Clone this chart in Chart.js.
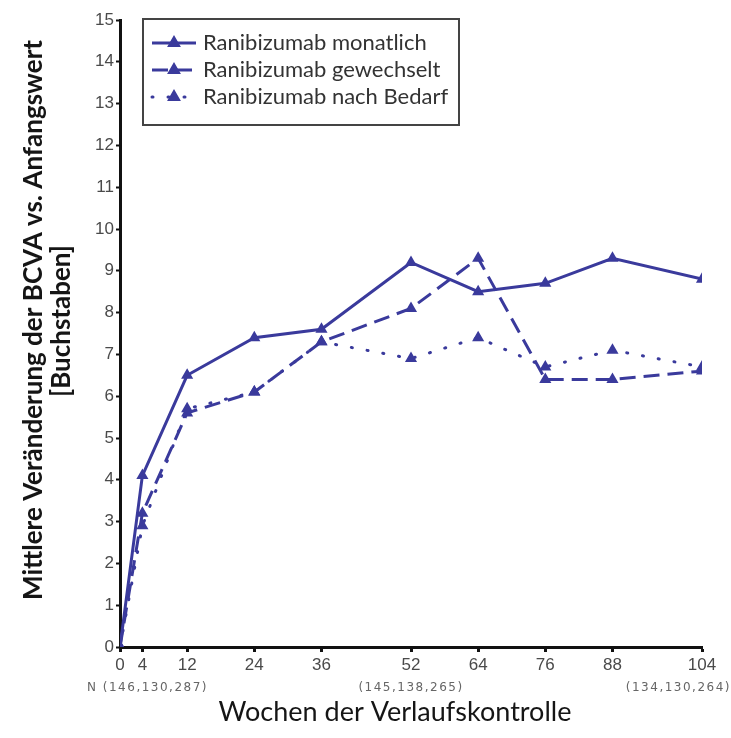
<!DOCTYPE html>
<html>
<head>
<meta charset="utf-8">
<script src="https://cdn.jsdelivr.net/npm/chart.js@4.4.0/dist/chart.umd.min.js"></script>
<style>
  body { margin: 0; background: #fff; }
</style>
</head>
<body>
<canvas id="bcva_chart" width="731" height="738"></canvas>
<script>
// weeks of follow-up and mean BCVA change per arm (letters)
var weeks = [0, 4, 12, 24, 36, 52, 64, 76, 88, 104]
var monatlich = [0, 4.1, 6.5, 7.4, 7.6, 9.2, 8.5, 8.7, 9.3, 8.8]
var gewechselt = [0, 3.2, 5.6, 6.1, 7.3, 8.1, 9.3, 6.4, 6.4, 6.6]
var nachBedarf = [0, 2.9, 5.7, 6.1, 7.3, 6.9, 7.4, 6.7, 7.1, 6.7]
var seriesNames = ['Ranibizumab monatlich', 'Ranibizumab gewechselt', 'Ranibizumab nach Bedarf']

var xTicks = weeks
var yMin = 0
var yMax = 15
var nWeeks = [0, 52, 104]
var nLabels = ['N (146,130,287)', '(145,138,265)', '(134,130,264)']
var xTitle = 'Wochen der Verlaufskontrolle'
var yTitle = ['Mittlere Veränderung der BCVA vs. Anfangswert', '[Buchstaben]']

var lineColor = '#3a3a9c'

function points(vals) {
    return weeks.map((w, i) => ({ x: w, y: vals[i] }))
}

// legend with a frame, drawn inside the plot area
const boxLegend = {
    id: 'boxLegend',
    afterDraw(chart) {
        const ctx = chart.ctx
        const area = chart.chartArea
        const x0 = area.left + 23, y0 = area.top - 1
        ctx.save()
        ctx.strokeStyle = '#444'
        ctx.lineWidth = 2
        ctx.strokeRect(x0, y0, 316, 106)
        chart.data.datasets.forEach((ds, i) => {
            const y = y0 + 24 + i * 27
            ctx.strokeStyle = ds.borderColor
            ctx.lineWidth = ds.borderWidth
            ctx.lineCap = ds.borderCapStyle || 'butt'
            ctx.setLineDash(ds.borderDash || [])
            ctx.beginPath()
            ctx.moveTo(x0 + 9, y)
            ctx.lineTo(x0 + 53, y)
            ctx.stroke()
            ctx.setLineDash([])
            ctx.fillStyle = ds.pointBackgroundColor
            Chart.helpers.drawPoint(ctx, { pointStyle: 'triangle', radius: 5, rotation: 0, borderWidth: 1 }, x0 + 31, y)
            ctx.fillStyle = '#333'
            ctx.font = '22px Lato'
            ctx.textBaseline = 'middle'
            ctx.textAlign = 'left'
            ctx.fillText(ds.label, x0 + 60, y)
        })
        ctx.restore()
    }
}

// axis titles and the N counts under the week ticks
const axisText = {
    id: 'axisText',
    afterDraw(chart) {
        const ctx = chart.ctx
        const area = chart.chartArea
        const xs = chart.scales.x
        ctx.save()
        ctx.fillStyle = '#151515'
        ctx.textAlign = 'center'
        ctx.textBaseline = 'middle'
        ctx.font = '27px Lato'
        ctx.fillText(xTitle, area.left + 275, 712)

        ctx.font = 'bold 26px Lato'
        ctx.save()
        ctx.translate(34, area.top + 300)
        ctx.rotate(-Math.PI / 2)
        ctx.fillText(yTitle[0], 0, 0)
        ctx.restore()
        ctx.save()
        ctx.translate(62, area.top + 301)
        ctx.rotate(-Math.PI / 2)
        ctx.fillText(yTitle[1], 0, 0)
        ctx.restore()

        ctx.fillStyle = '#666'
        ctx.font = '12px "DejaVu Sans"'
        ctx.letterSpacing = '1.5px'
        const aligns = ['left', 'center', 'right']
        const shift = [-33, 0, 29]
        nLabels.forEach((t, i) => {
            ctx.textAlign = aligns[i]
            ctx.fillText(t, xs.getPixelForValue(nWeeks[i]) + shift[i], 688)
        })
        ctx.restore()
    }
}

const chart = new Chart(document.getElementById('bcva_chart').getContext('2d'), {
    type: 'line',
    data: {
        datasets: [{
            label: seriesNames[0],
            data: points(monatlich),
            borderColor: lineColor,
            pointBackgroundColor: lineColor,
            pointBorderColor: lineColor,
            borderWidth: 3,
            pointStyle: 'triangle',
            pointRadius: 4
        }, {
            label: seriesNames[1],
            data: points(gewechselt),
            borderColor: lineColor,
            pointBackgroundColor: lineColor,
            pointBorderColor: lineColor,
            borderWidth: 3,
            borderDash: [16, 8],
            pointStyle: 'triangle',
            pointRadius: 4
        }, {
            label: seriesNames[2],
            data: points(nachBedarf),
            borderColor: lineColor,
            pointBackgroundColor: lineColor,
            pointBorderColor: lineColor,
            borderWidth: 3,
            borderDash: [1, 15],
            borderCapStyle: 'round',
            pointStyle: 'triangle',
            pointRadius: 4
        }]
    },
    options: {
        responsive: false,
        animation: false,
        layout: { padding: { left: 0, right: 29, top: 20, bottom: 0 } },
        plugins: {
            legend: { display: false },
            tooltip: { enabled: false }
        },
        scales: {
            x: {
                type: 'linear',
                min: 0,
                max: 104,
                afterBuildTicks: s => { s.ticks = xTicks.map(v => ({ value: v })) },
                afterFit: s => { s.height = 91 },
                border: { color: '#111', width: 3 },
                grid: { drawOnChartArea: false, tickLength: 5, tickColor: '#111', tickWidth: 3 },
                ticks: { color: '#4a4a4a', padding: 3, font: { family: 'Liberation Sans', size: 17 }, maxRotation: 0 }
            },
            y: {
                min: yMin,
                max: yMax,
                afterFit: s => { s.width = 120 },
                border: { color: '#111', width: 3 },
                grid: { drawOnChartArea: false, tickLength: 4, tickColor: '#111', tickWidth: 2 },
                ticks: { stepSize: 1, color: '#4a4a4a', padding: 2, font: { family: 'Liberation Sans', size: 17 } }
            }
        }
    },
    plugins: [boxLegend, axisText]
})
</script>
</body>
</html>
